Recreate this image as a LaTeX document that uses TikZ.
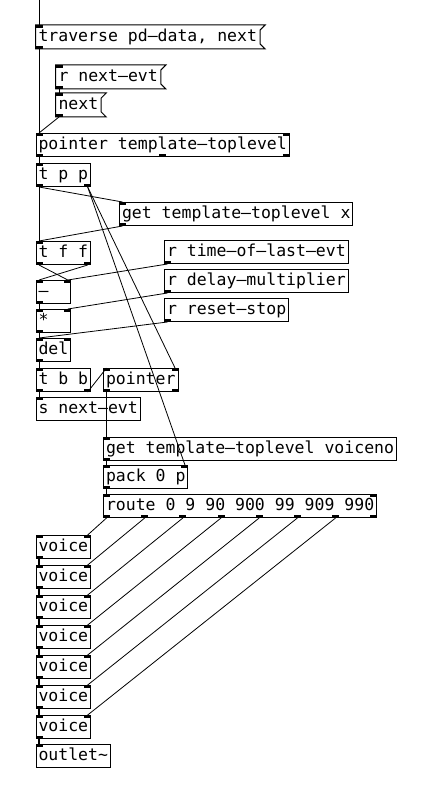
\documentclass[tikz,border=0pt]{standalone}
\usepackage{fontspec}
\newfontfamily\pdfont{DejaVu Sans Mono}
\usetikzlibrary{calc}

\tikzset{
  obj/.style={draw, line width=1pt, anchor=north west, inner xsep=2.5pt, inner ysep=0pt,
    text height=15.8pt, text depth=7.2pt, minimum width=34pt,
    font=\pdfont\fontsize{16.5}{18}\selectfont},
  msg/.style={obj, draw=none},
  wire/.style={line width=0.8pt},
  sig/.style={line width=2pt},
}

% inlets and outlets at fractions of the box width
\newcommand{\inlets}[2]{\foreach \f in {#2}
  {\fill ($([xshift=3.5pt]#1.north west)!\f!([xshift=-3.5pt]#1.north east)$) ++(-3.5,0) rectangle ++(7,3);}}
\newcommand{\outlets}[2]{\foreach \f in {#2}
  {\fill ($([xshift=3.5pt]#1.south west)!\f!([xshift=-3.5pt]#1.south east)$) ++(-3.5,0) rectangle ++(7,-3);}}
\newcommand{\wire}[5][wire]{\draw[#1]
  ($([xshift=3.5pt]#2.south west)!#3!([xshift=-3.5pt]#2.south east)$) --
  ($([xshift=3.5pt]#4.north west)!#5!([xshift=-3.5pt]#4.north east)$);}

\begin{document}
\begin{tikzpicture}[x=1pt, y=-1pt]
        \fill[white] (0,0) rectangle (430,797);
        \useasboundingbox (0,0) rectangle (430,797);

        % Draw boxes
        \node[msg] (trav) at (35.5,25) {traverse pd–data, next};
        \node[msg] (rnext) at (55.5,65) {r next–evt};
        \node[msg] (nxt) at (55.5,93) {next};
        \node[obj] (ptl) at (35.5,133) {pointer template–toplevel};
        \node[obj] (tpp) at (35.5,163) {t p p};
        \node[obj] (getx) at (119,202) {get template–toplevel x};
        \node[obj] (tff) at (35.5,241) {t f f};
        \node[obj] (rtime) at (164,240) {r time–of–last–evt};
        \node[obj] (rdelay) at (164,269) {r delay–multiplier};
        \node[obj] (minus) at (35.5,280) {\makebox[29.8pt][l]{–}};
        \node[obj] (rreset) at (164,298) {r reset–stop};
        \node[obj] (times) at (35.5,309) {\makebox[29.8pt][l]{*}};
        \node[obj] (del) at (35.5,338) {del};
        \node[obj] (tbb) at (35.5,368) {t b b};
        \node[obj] (ptr) at (103,368) {pointer};
        \node[obj] (snext) at (35.5,397) {s next–evt};
        \node[obj] (getv) at (103,437) {get template–toplevel voiceno};
        \node[obj] (pack) at (103,465) {pack 0 p};
        \node[obj] (route) at (103,494) {route 0 9 90 900 99 909 990};
        \foreach \i in {0,...,6}
          \node[obj] (v\i) at (35.5,535+30*\i) {voice};
        \node[obj] (outl) at (35.5,744) {outlet\textasciitilde};

        % Message flags
        \foreach \m in {trav,rnext,nxt}
          \draw[line width=1pt] (\m.north west) -- ([xshift=5pt]\m.north east)
            -- ([yshift=-5pt]\m.north east) -- ([yshift=5pt]\m.south east)
            -- ([xshift=5pt]\m.south east) -- (\m.south west) -- cycle;

        % Draw connections
        \coordinate (top) at (39,0);
        \draw[wire] (top) -- ([xshift=3.5pt]trav.north west);
        \wire{trav}{0}{ptl}{0}
        \wire{rnext}{0}{nxt}{0}
        \wire{nxt}{0}{ptl}{0}
        \wire{ptl}{0}{tpp}{0}
        \wire{tpp}{0}{getx}{0}
        \wire{tpp}{0}{tff}{0}
        \wire{tpp}{1}{ptr}{1}
        \wire{tpp}{1}{pack}{1}
        \wire{getx}{0}{tff}{0}
        \wire{tff}{0}{minus}{1}
        \wire{tff}{1}{minus}{0}
        \wire{rtime}{0}{minus}{1}
        \wire{minus}{0}{times}{0}
        \wire{rdelay}{0}{times}{1}
        \wire{times}{0}{del}{0}
        \wire{rreset}{0}{del}{0}
        \wire{del}{0}{tbb}{0}
        \wire{tbb}{0}{snext}{0}
        \wire{tbb}{1}{ptr}{0}
        \wire{ptr}{0}{getv}{0}
        \wire{getv}{0}{pack}{0}
        \wire{pack}{0}{route}{0}
        \foreach \i in {0,...,6}
          {\wire{route}{\i/7}{v\i}{1}}
        \foreach \i [count=\j] in {0,...,5}
          {\wire[sig]{v\i}{0}{v\j}{0}}
        \wire[sig]{v6}{0}{outl}{0}

        % Draw inlets and outlets
        \inlets{trav}{0} \outlets{trav}{0}
        \inlets{rnext}{0} \outlets{rnext}{0}
        \inlets{nxt}{0} \outlets{nxt}{0}
        \inlets{ptl}{0,1} \outlets{ptl}{0,0.5,1}
        \inlets{tpp}{0} \outlets{tpp}{0,1}
        \inlets{getx}{0} \outlets{getx}{0}
        \inlets{tff}{0} \outlets{tff}{0,1}
        \outlets{rtime}{0}
        \outlets{rdelay}{0}
        \outlets{rreset}{0}
        \inlets{minus}{0,1} \outlets{minus}{0}
        \inlets{times}{0,1} \outlets{times}{0}
        \inlets{del}{0,1} \outlets{del}{0}
        \inlets{tbb}{0} \outlets{tbb}{0,1}
        \inlets{ptr}{0,1} \outlets{ptr}{0,1}
        \inlets{snext}{0}
        \inlets{getv}{0} \outlets{getv}{0}
        \inlets{pack}{0,1} \outlets{pack}{0}
        \inlets{route}{0,1} \outlets{route}{0,1/7,2/7,3/7,4/7,5/7,6/7,1}
        \foreach \i in {0,...,6}
          {\inlets{v\i}{0,1} \outlets{v\i}{0}}
        \inlets{outl}{0}
      \end{tikzpicture}
\end{document}
